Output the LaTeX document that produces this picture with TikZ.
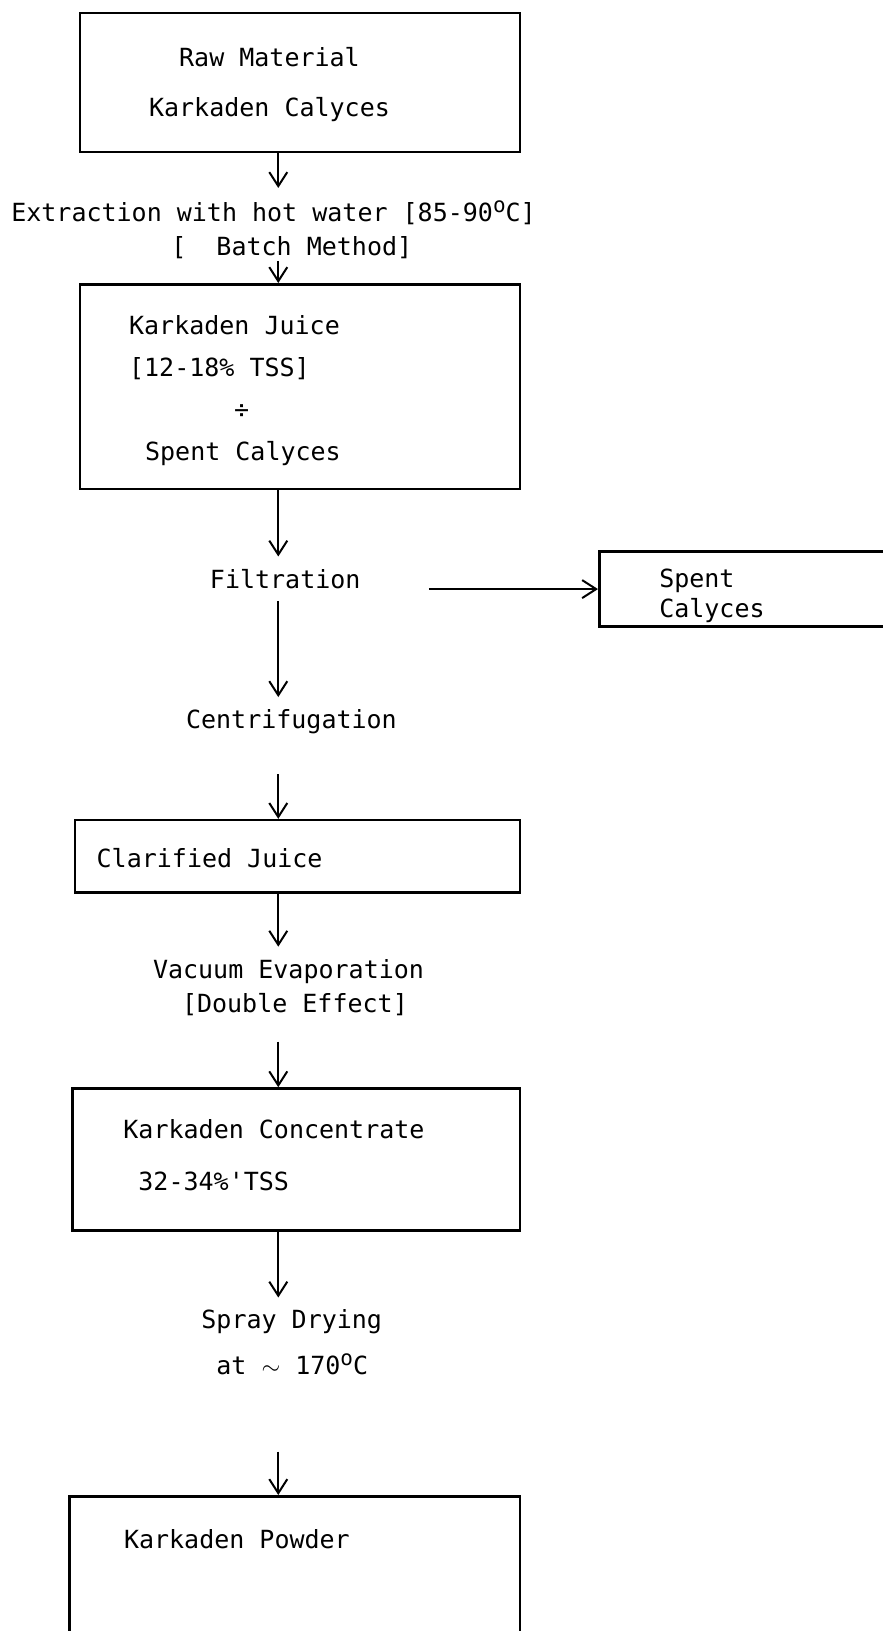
\documentclass[tikz,border=0pt]{standalone}
\usepackage{fontspec}
\setmonofont{DejaVu Sans Mono}
\usetikzlibrary{arrows.meta,positioning}

\newcommand{\degsup}{\raisebox{4.5pt}{\fontsize{10.5}{10.5}\selectfont o}}

\begin{document}
\begin{tikzpicture}[
    font=\ttfamily\fontsize{12.5}{15}\selectfont,
    stage/.style={draw, line width=1.3pt},
    txt/.style={inner sep=0pt, align=left},
    lbl/.style={inner xsep=0pt, inner ysep=6pt, align=left},
    arr/.style={-{Straight Barb[length=7pt,width=9pt]}, line width=1pt}]
  \useasboundingbox (0,0) rectangle (15.50,-28.66);
  \coordinate (spine) at (4.89,0);
  \node[stage, minimum width=7.73cm, minimum height=2.44cm] (raw) at (5.27,-1.45) {};
  \node[txt, align=center, below right=0.62cm and 1.23cm of raw.north west] (rawtxt) {Raw Material\\[10pt]Karkaden Calyces};
  \node[lbl, below right=0.61cm and -1.19cm of raw.south west] (extr) {Extraction with hot water [85-90\degsup C]\\[2pt]\hspace*{80pt}[\ \ Batch Method]};
  \node[stage, minimum width=7.73cm, minimum height=3.60cm, below left=2.28cm and 0cm of raw.south east] (juice) {};
  \node[txt, below right=0.56cm and 0.88cm of juice.north west] (juicetxt) {Karkaden Juice\\[6pt][12-18\% TSS]\\[6pt]\hspace*{52.5pt}÷\\[6pt]\hspace*{8pt}Spent Calyces};
  \node[lbl, below right=1.16cm and 2.30cm of juice.south west] (filt) {Filtration};
  \node[stage, minimum width=5.68cm, minimum height=1.32cm, below right=1.05cm and 1.35cm of juice.south east] (spent) {};
  \node[txt, below right=0.32cm and 1.07cm of spent.north west] (spenttxt) {Spent\\Calyces};
  \node[lbl, below right=3.63cm and 1.88cm of juice.south west] (centr) {Centrifugation};
  \node[stage, minimum width=7.82cm, minimum height=1.27cm, below left=5.77cm and 0cm of juice.south east] (clar) {};
  \node[txt, below right=0.51cm and 0.40cm of clar.north west] (clartxt) {Clarified Juice};
  \node[lbl, below right=0.93cm and 1.39cm of clar.south west] (vac) {Vacuum Evaporation\\[2pt]\hspace*{14.5pt}[Double Effect]};
  \node[stage, minimum width=7.86cm, minimum height=2.50cm, below left=3.40cm and 0cm of clar.south east] (conc) {};
  \node[txt, below right=0.56cm and 0.91cm of conc.north west] (conctxt) {Karkaden Concentrate\\[11pt]\hspace*{7.5pt}32-34\%'TSS};
  \node[lbl, below right=1.15cm and 2.28cm of conc.south west] (spray) {Spray Drying\\[8pt]\hspace*{7.5pt}at {\large$\sim$} 170\degsup C};
  \node[stage, minimum width=7.91cm, minimum height=2.85cm, below left=4.62cm and 0cm of conc.south east] (powder) {};
  \node[txt, below right=0.60cm and 0.97cm of powder.north west] (powtxt) {Karkaden Powder};
  \draw[arr] (raw.south -| spine) -- (extr.north -| spine);
  \draw[arr, shorten <=-5pt] (extr.south -| spine) -- (juice.north -| spine);
  \draw[arr] (juice.south -| spine) -- (filt.north -| spine);
  \draw[arr] (filt.south -| spine) -- (centr.north -| spine);
  \draw[arr, shorten <=14pt] (centr.south -| spine) -- (clar.north -| spine);
  \draw[arr] (clar.south -| spine) -- (vac.north -| spine);
  \draw[arr, shorten <=7pt] (vac.south -| spine) -- (conc.north -| spine);
  \draw[arr] (conc.south -| spine) -- (spray.north -| spine);
  \draw[arr, shorten <=32pt] (spray.south -| spine) -- (powder.north -| spine);
  \draw[arr, shorten <=34pt] (filt.east |- spent.west) -- (spent.west);
\end{tikzpicture}
\end{document}
